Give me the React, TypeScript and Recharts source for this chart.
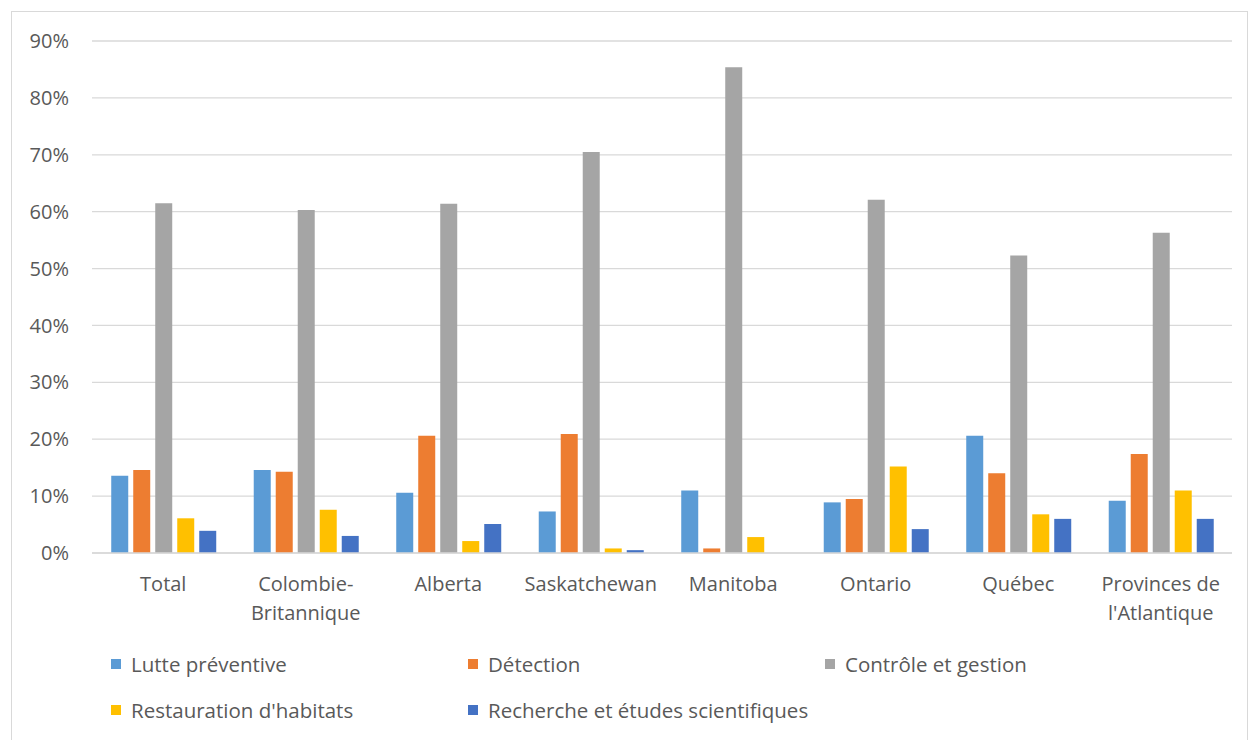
import { BarChart, Bar, XAxis, YAxis, CartesianGrid } from 'recharts';

const categories = [
  'Total',
  'Colombie-Britannique',
  'Alberta',
  'Saskatchewan',
  'Manitoba',
  'Ontario',
  'Québec',
  "Provinces de l'Atlantique",
];
// how each category label wraps on the axis
const tickLines: Record<string, string[]> = {
  'Colombie-Britannique': ['Colombie-', 'Britannique'],
  "Provinces de l'Atlantique": ['Provinces de', "l'Atlantique"],
};

const lutte = [13.6, 14.6, 10.6, 7.3, 11.0, 8.9, 20.6, 9.2];
const detection = [14.6, 14.3, 20.6, 20.9, 0.8, 9.5, 14.0, 17.4];
const controle = [61.5, 60.3, 61.4, 70.5, 85.4, 62.1, 52.3, 56.3];
const restauration = [6.1, 7.6, 2.1, 0.8, 2.8, 15.2, 6.8, 11.0];
const recherche = [3.9, 3.0, 5.1, 0.5, 0, 4.2, 6.0, 6.0];

const yTicks = [0, 10, 20, 30, 40, 50, 60, 70, 80, 90];

const series = [
  { key: 'lutte', name: 'Lutte préventive', color: '#5B9BD5' },
  { key: 'detection', name: 'Détection', color: '#ED7D31' },
  { key: 'controle', name: 'Contrôle et gestion', color: '#A5A5A5' },
  { key: 'restauration', name: "Restauration d'habitats", color: '#FFC000' },
  { key: 'recherche', name: 'Recherche et études scientifiques', color: '#4472C4' },
];

const data = categories.map((name, i) => ({
  name,
  lutte: lutte[i],
  detection: detection[i],
  controle: controle[i],
  restauration: restauration[i],
  recherche: recherche[i],
}));

const FONT = '"Open Sans", sans-serif';
const TEXT = '#595959';

const CategoryTick = ({ x, y, payload }: any) => {
  const lines = tickLines[payload.value] || [payload.value];
  return (
    <text x={x} y={y} textAnchor="middle" fill={TEXT} fontSize={20} fontFamily={FONT}>
      {lines.map((l, i) => (
        <tspan key={i} x={x} dy={i === 0 ? 30 : 29}>
          {l}
        </tspan>
      ))}
    </text>
  );
};

export default function App() {
  return (
    <div style={{ position: 'absolute', left: 0, top: 0, width: 1248, height: 740, background: '#fff', overflow: 'hidden' }}>
      <div
        style={{
          position: 'absolute',
          left: 11,
          top: 11,
          width: 1235,
          height: 760,
          border: '1px solid #d9d9d9',
        }}
      />
      <div style={{ position: 'absolute', left: 0, top: 0 }}>
        <BarChart
          width={1248}
          height={740}
          data={data}
          margin={{ top: 41, right: 16, bottom: 0, left: 0 }}
          barCategoryGap="13.5%"
          barGap={5}
        >
          <CartesianGrid vertical={false} stroke="#d9d9d9" strokeWidth={1.3} />
          <XAxis
            dataKey="name"
            tick={<CategoryTick />}
            tickLine={false}
            axisLine={{ stroke: '#d9d9d9', strokeWidth: 1.3 }}
            interval={0}
            height={187}
          />
          <YAxis
            width={92}
            domain={[0, 90]}
            ticks={yTicks}
            tickFormatter={(v) => `${v}%`}
            axisLine={false}
            tickLine={false}
            tickSize={0}
            tickMargin={23}
            tick={{ fill: TEXT, fontSize: 20, fontFamily: FONT }}
          />
          {series.map((s) => (
            <Bar key={s.key} dataKey={s.key} name={s.name} fill={s.color} isAnimationActive={false} />
          ))}
        </BarChart>
      </div>
      <div
        style={{
          position: 'absolute',
          left: 111,
          top: 650,
          width: 1100,
          display: 'grid',
          gridTemplateColumns: '357px 357px 357px',
          rowGap: 18,
          fontFamily: FONT,
          fontSize: 20.5,
          color: TEXT,
        }}
      >
        {series.map((s) => (
          <div key={s.key} style={{ display: 'flex', alignItems: 'center', height: 28, whiteSpace: 'nowrap' }}>
            <span style={{ width: 10, height: 10, background: s.color, marginRight: 10, display: 'inline-block' }} />
            <span>{s.name}</span>
          </div>
        ))}
      </div>
    </div>
  );
}
